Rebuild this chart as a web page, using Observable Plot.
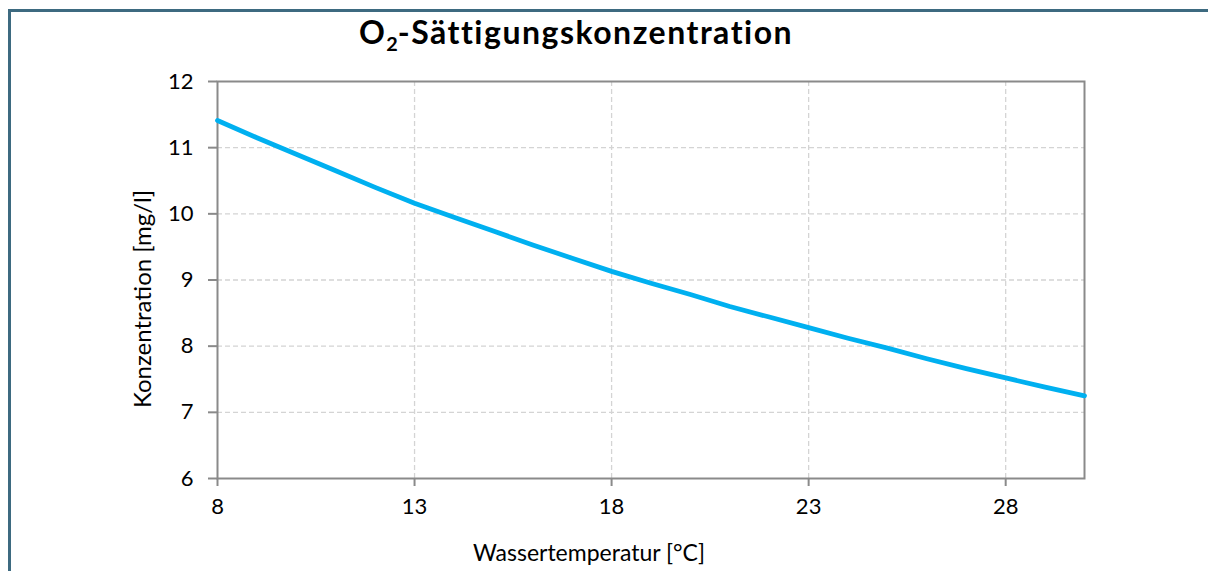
<!DOCTYPE html>
<html>
<head>
<meta charset="utf-8">
<script src="https://cdn.jsdelivr.net/npm/d3@7"></script>
<script src="https://cdn.jsdelivr.net/npm/@observablehq/plot@0.6"></script>
<style>
  html, body { margin: 0; padding: 0; background: #fff; overflow: hidden; }
  #wrap { position: relative; width: 1208px; height: 571px; overflow: hidden; font-family: Lato, "Open Sans", sans-serif; }
  #border { position: absolute; left: 8px; top: 9px; width: 1300px; height: 700px; border: 3px solid #3d6a80; box-sizing: border-box; }
  #title { position: absolute; left: 0; top: 12px; width: 1152px; text-align: center; font-weight: bold; font-size: 32px; letter-spacing: 1.5px; color: #000; line-height: 40px; }
  #title sub { font-size: 0.62em; vertical-align: -0.35em; line-height: 0; letter-spacing: 0; }
  #chart { position: absolute; left: 0; top: 0; }
  #chart g[aria-label$="tick label"] text { font-size: 22px; }
</style>
</head>
<body>
<div id="wrap">
  <div id="border"></div>
  <div id="chart"></div>
  <div id="title">O<sub>2</sub>-Sättigungskonzentration</div>
</div>
<script>
// Wassertemperatur [°C]
const temperatures = [8, 9, 10, 11, 12, 13, 14, 15, 16, 17, 18, 19, 20, 21, 22, 23, 24, 25, 26, 27, 28, 29, 30];
// Konzentration [mg/l]
const concentrations = [11.41, 11.15, 10.90, 10.65, 10.40, 10.16, 9.95, 9.74, 9.53, 9.33, 9.13, 8.95, 8.78, 8.60, 8.44, 8.28, 8.12, 7.97, 7.81, 7.66, 7.52, 7.38, 7.25];
const xTicks = [8, 13, 18, 23, 28];
const yTicks = [6, 7, 8, 9, 10, 11, 12];
const xLabel = "Wassertemperatur [°C]";
const yLabel = "Konzentration [mg/l]";

const data = temperatures.map((t, i) => ({t, c: concentrations[i]}));

const chart = Plot.plot({
  width: 1208,
  height: 571,
  marginLeft: 217,
  marginRight: 124,
  marginTop: 81,
  marginBottom: 93,
  style: {fontFamily: "Lato, 'Open Sans', sans-serif", background: "transparent", color: "#000"},
  x: {domain: [8, 30], ticks: xTicks},
  y: {domain: [6, 12], ticks: yTicks},
  marks: [
    Plot.gridX(xTicks.filter(d => d !== 8), {stroke: "#d4d4d4", strokeOpacity: 1, strokeWidth: 1.3, strokeDasharray: "5,3"}),
    Plot.gridY(yTicks.filter(d => d !== 6 && d !== 12), {stroke: "#d4d4d4", strokeOpacity: 1, strokeWidth: 1.3, strokeDasharray: "5,3"}),
    Plot.frame({stroke: "#8a8a8a", strokeWidth: 2}),
    Plot.axisX(xTicks, {tickSize: 8, tickPadding: 12, stroke: "#8a8a8a", strokeWidth: 2, fontSize: 22, fill: "#000", label: null, tickFormat: d => String(d)}),
    Plot.axisY(yTicks, {tickSize: 9, tickPadding: 15, stroke: "#8a8a8a", strokeWidth: 2, fontSize: 22, fill: "#000", label: null, tickFormat: d => String(d)}),
    Plot.line(data, {x: "t", y: "c", stroke: "#00b0f0", strokeWidth: 4.8, strokeLinejoin: "round", strokeLinecap: "round"}),
    Plot.text([xLabel], {frameAnchor: "bottom", textAnchor: "middle", lineAnchor: "middle", text: d => d, dx: -62, dy: 75, fontSize: 23, fill: "#000"}),
    Plot.text([yLabel], {frameAnchor: "left", textAnchor: "middle", lineAnchor: "middle", text: d => d, rotate: -90, dx: -74, dy: 19, fontSize: 24, fill: "#000"})
  ]
});
document.getElementById("chart").appendChild(chart);
</script>
</body>
</html>
